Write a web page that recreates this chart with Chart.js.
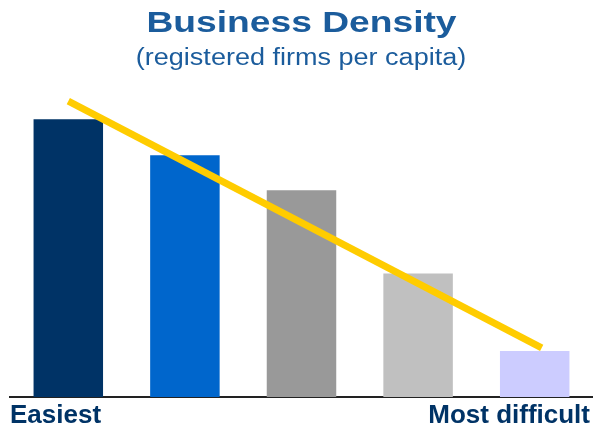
<!DOCTYPE html>
<html>
<head>
<meta charset="utf-8">
<script src="https://cdn.jsdelivr.net/npm/chart.js@4"></script>
<style>
  html, body { margin: 0; padding: 0; background: #fff; }
  #chart { display: block; }
</style>
</head>
<body>
<canvas id="chart" width="593" height="428"></canvas>
<script>
// Data (0-100 scale, no axis shown)
const categories = ['1', '2', '3', '4', '5'];
const densityValues = [92.3, 80.3, 68.7, 41, 15.3];
const barColors = ['#003366', '#0066CC', '#999999', '#C0C0C0', '#CCCCFF'];
const trendX = [0, 4.06];
const trendY = [98.3, 16.3];
const edgeLabels = ['Easiest', 'Most difficult'];
const titleText = 'Business Density';
const subtitleText = '(registered firms per capita)';

// Draws the wide title lines and the "Easiest" / "Most difficult" labels
const textPlugin = {
    id: 'texts',
    afterDraw(chart) {
        const ctx = chart.ctx;
        ctx.save();
        ctx.fillStyle = '#1B5C9C';
        ctx.textAlign = 'center';
        ctx.textBaseline = 'alphabetic';

        // title, stretched sideways like the original
        ctx.save();
        ctx.translate(301.5, 32);
        ctx.scale(1.24, 1);
        ctx.font = 'bold 30px "Liberation Sans", Arial, sans-serif';
        ctx.fillText(titleText, 0, 0);
        ctx.restore();

        ctx.save();
        ctx.translate(301, 65);
        ctx.scale(1.175, 1);
        ctx.font = '23px "Liberation Sans", Arial, sans-serif';
        ctx.fillText(subtitleText, 0, 0);
        ctx.restore();

        ctx.font = 'bold 26px "Liberation Sans", Arial, sans-serif';
        ctx.fillStyle = '#003366';
        ctx.textAlign = 'left';
        ctx.fillText(edgeLabels[0], 10, 423);
        ctx.textAlign = 'right';
        ctx.fillText(edgeLabels[1], 590, 423);
        ctx.restore();
    }
};

new Chart(document.getElementById('chart'), {
    type: 'bar',
    data: {
        labels: categories,
        datasets: [{
            type: 'bar',
            data: densityValues,
            backgroundColor: barColors,
            borderWidth: 0,
            grouped: false,
            barPercentage: 0.596,
            categoryPercentage: 1,
            order: 2
        }, {
            type: 'line',
            xAxisID: 'xl',
            data: trendX.map((x, i) => ({ x: x, y: trendY[i] })),
            borderColor: '#FFCC00',
            borderWidth: 7,
            borderCapStyle: 'butt',
            pointRadius: 0,
            fill: false,
            order: 1
        }]
    },
    options: {
        responsive: false,
        animation: false,
        layout: { padding: { left: 10, right: 0, top: 96, bottom: 23 } },
        plugins: {
            legend: { display: false },
            tooltip: { enabled: false },
            title: { display: false },
            subtitle: { display: false }
        },
        scales: {
            x: {
                type: 'category',
                grid: { display: false },
                border: { display: true, color: '#222222', width: 2 },
                ticks: { display: false }
            },
            xl: {
                type: 'linear',
                display: false,
                offset: false,
                min: -0.5,
                max: 4.5
            },
            y: {
                display: false,
                min: 0,
                max: 100
            }
        }
    },
    plugins: [textPlugin]
});
</script>
</body>
</html>
